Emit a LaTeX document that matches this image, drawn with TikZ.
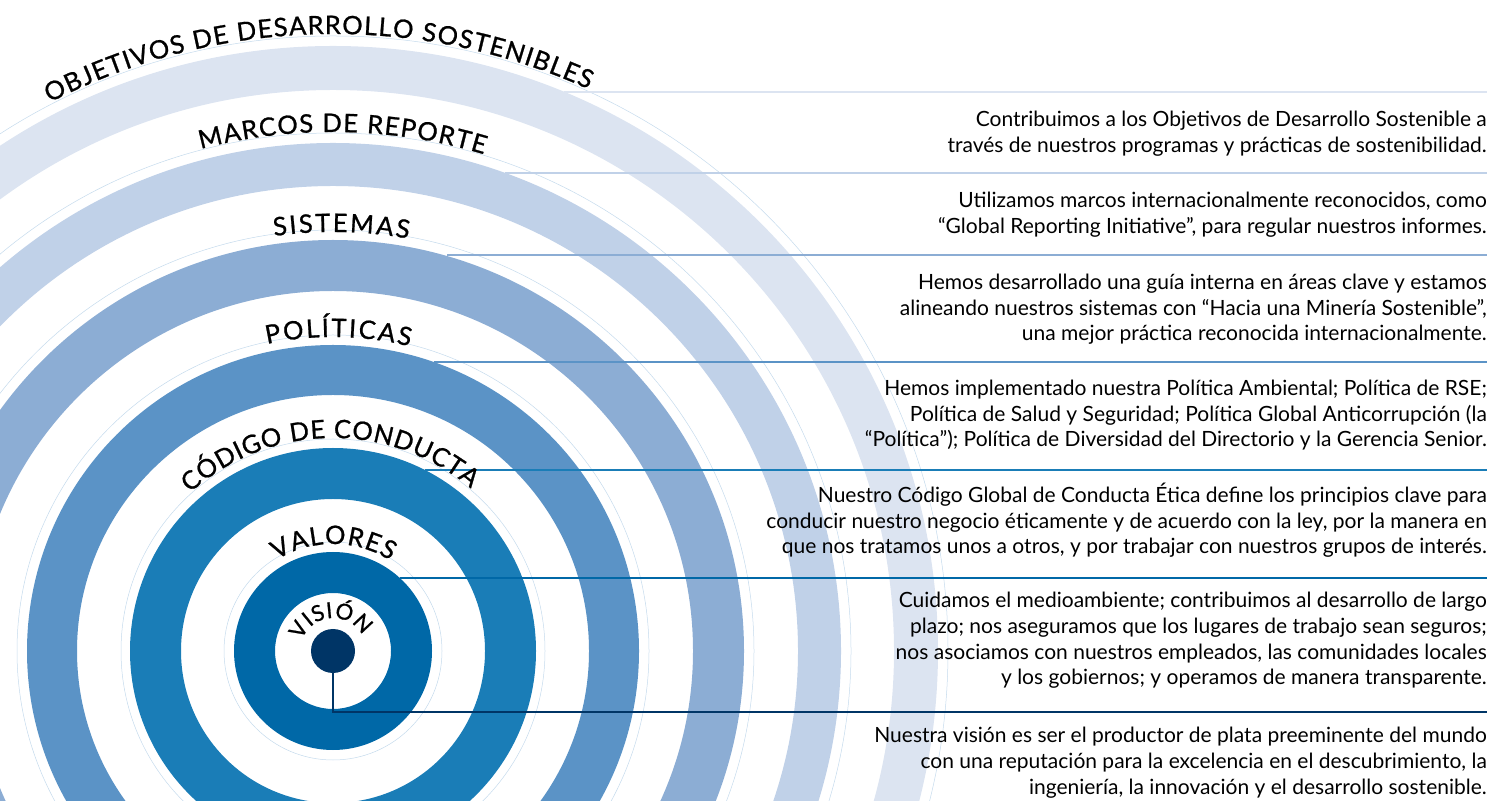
\documentclass[tikz,border=0pt]{standalone}
\usepackage{fontspec}
\setmainfont{Lato}
\newfontfamily\lblfam[FakeBold=0.9]{Lato}
\newcommand\lblf{\lblfam\fontsize{25.5}{25.5}\selectfont\kern1.2pt\relax}
\newcommand\lblw{\lblfam\fontsize{25.5}{25.5}\selectfont\kern2.2pt\relax}
\newcommand\lbln{\lblfam\fontsize{25.5}{25.5}\selectfont\kern0.7pt\relax}
\newcommand\visf{\lblfam\fontsize{22}{22}\selectfont\kern0.6pt\relax}
\usetikzlibrary{decorations.text,calc}
\definecolor{navy}{HTML}{003566}
\definecolor{ringa}{HTML}{0068A7}
\definecolor{ringb}{HTML}{1A7DB7}
\definecolor{ringc}{HTML}{5B93C6}
\definecolor{ringd}{HTML}{8CADD4}
\definecolor{ringe}{HTML}{C0D1E8}
\definecolor{ringf}{HTML}{DCE4F1}
\definecolor{guidec}{HTML}{C4DAEC}
\newcommand\arclabel[4]{%
  \path[decorate, decoration={text along path, text align=center, text={|#3|#4}}]
    ($(C)+({#2+90}:#1)$) arc[start angle={#2+90}, end angle={#2-90}, radius=#1];}
\begin{document}
\begin{tikzpicture}[x=1pt,y=1pt,
  annulus/.style={even odd rule},
  guide/.style={draw=guidec, line width=0.5pt},
  hline/.style={line width=2.6pt},
  desc/.style={anchor=north east, align=right, inner sep=0pt, text=black,
    font=\fontsize{21}{25.9}\selectfont}]
\useasboundingbox (0,0) rectangle (1503,800);
\clip (0,0) rectangle (1503,800);
\coordinate (C) at (333,149);
% rings
\fill[ringf, annulus] (C) circle[radius=605] circle[radius=561];
\fill[ringe, annulus] (C) circle[radius=508] circle[radius=465];
\fill[ringd, annulus] (C) circle[radius=411] circle[radius=360];
\fill[ringc, annulus] (C) circle[radius=306] circle[radius=256];
\fill[ringb, annulus] (C) circle[radius=203] circle[radius=152];
\fill[ringa, annulus] (C) circle[radius=99] circle[radius=58];
\foreach \r in {109,212,316,421,518,615} \draw[guide] (C) circle[radius=\r];
% connector coordinates
\coordinate (s1) at (564,708); \coordinate (e1) at (1487,708);
\coordinate (s2) at (505,627); \coordinate (e2) at (1487,627);
\coordinate (s3) at (447,545); \coordinate (e3) at (1487,545);
\coordinate (s4) at (434,438); \coordinate (e4) at (1487,438);
\coordinate (s5) at (425,330); \coordinate (e5) at (1487,330);
\coordinate (s6) at (400,222); \coordinate (e6) at (1487,222);
\coordinate (k7) at (333,88);  \coordinate (e7) at (1487,88);
\draw[hline, ringf] (s1) -- (e1);
\draw[hline, ringe] (s2) -- (e2);
\draw[hline, ringd] (s3) -- (e3);
\draw[hline, ringc] (s4) -- (e4);
\draw[hline, ringb] (s5) -- (e5);
\draw[hline, ringa] (s6) -- (e6);
% centre dot and stem
\node[circle, fill=navy, minimum size=44pt, inner sep=0pt] (dot) at (C) {};
\draw[navy, line width=2.8pt] (dot.center) -- (k7) -- (e7);
% curved labels
\arclabel{617}{91.5}{\lblf}{OBJETIVOS DE DESARROLLO SOSTENIBLES}
\arclabel{519}{89}{\lblf}{MARCOS DE REPORTE}
\arclabel{419}{89}{\lblw}{SISTEMAS}
\arclabel{314}{89.2}{\lblw}{POLÍTICAS}
\arclabel{213}{91}{\lbln}{CÓDIGO DE CONDUCTA}
\arclabel{107}{90}{\lblf}{VALORES}
\arclabel{33}{95}{\visf}{VISIÓN}
% descriptions
\node[desc] (d1) at (1487,694) {\rule{0pt}{20pt}Contribuimos a los Objetivos de Desarrollo Sostenible a\\través de nuestros programas y prácticas de sostenibilidad.};
\node[desc] (d2) at (1487,613) {\rule{0pt}{20pt}Utilizamos marcos internacionalmente reconocidos, como\\“Global Reporting Initiative”, para regular nuestros informes.};
\node[desc] (d3) at (1487,531) {\rule{0pt}{20pt}Hemos desarrollado una guía interna en áreas clave y estamos\\alineando nuestros sistemas con “Hacia una Minería Sostenible”,\\una mejor práctica reconocida internacionalmente.};
\node[desc] (d4) at (1487,425) {\rule{0pt}{20pt}Hemos implementado nuestra Política Ambiental; Política de RSE;\\Política de Salud y Seguridad; Política Global Anticorrupción (la\\“Política”); Política de Diversidad del Directorio y la Gerencia Senior.};
\node[desc] (d5) at (1487,318) {\rule{0pt}{20pt}Nuestro Código Global de Conducta Ética define los principios clave para\\conducir nuestro negocio éticamente y de acuerdo con la ley, por la manera en\\que nos tratamos unos a otros, y por trabajar con nuestros grupos de interés.};
\node[desc] (d6) at (1487,213) {\rule{0pt}{20pt}Cuidamos el medioambiente; contribuimos al desarrollo de largo\\plazo; nos aseguramos que los lugares de trabajo sean seguros;\\nos asociamos con nuestros empleados, las comunidades locales\\y los gobiernos; y operamos de manera transparente.};
\node[desc] (d7) at (1487,78) {\rule{0pt}{20pt}Nuestra visión es ser el productor de plata preeminente del mundo\\con una reputación para la excelencia en el descubrimiento, la\\ingeniería, la innovación y el desarrollo sostenible.};
\end{tikzpicture}
\end{document}
